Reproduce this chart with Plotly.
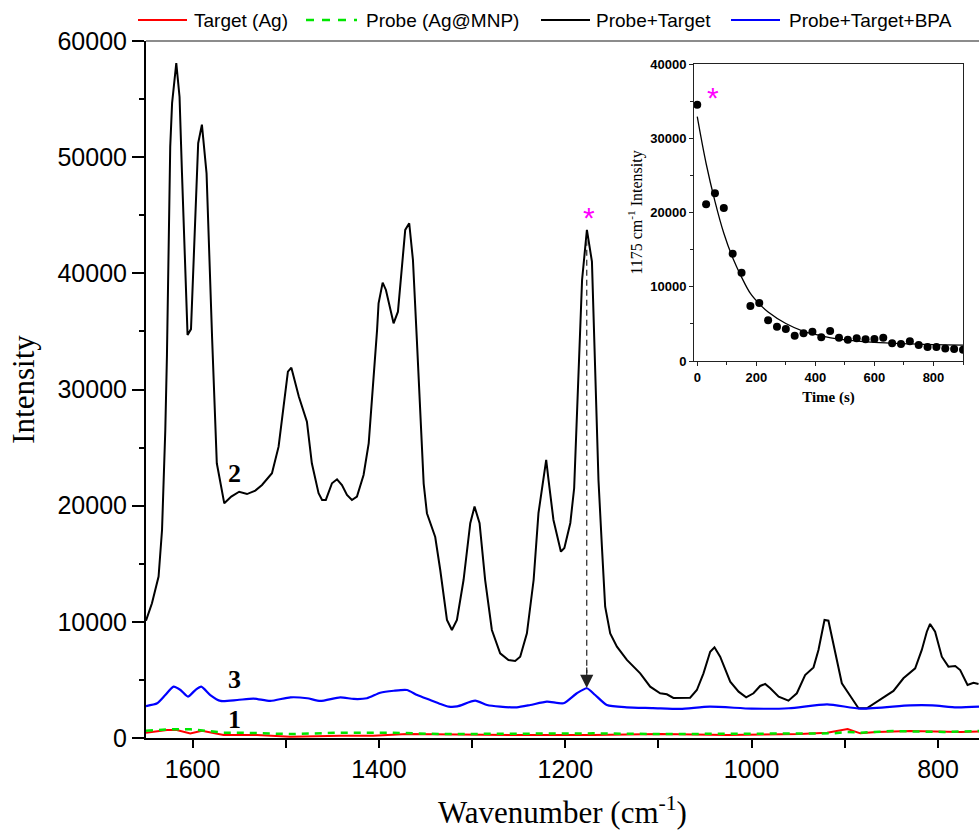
import plotly.graph_objects as go

# ---------------- data ----------------
black_wn = [1650, 1643.6, 1636.5, 1632.8, 1629.3, 1627.5, 1624, 1622, 1617.5, 1614, 1611.4,
            1605.4, 1601.7, 1594, 1590, 1585, 1579, 1574, 1566, 1558.5, 1550, 1541.6, 1532.7,
            1525.5, 1514.8, 1507.7, 1502.4, 1497.7, 1494, 1486, 1477.3, 1472, 1464.8, 1461,
            1457, 1450.4, 1445, 1439.7, 1434.3, 1429, 1423.6, 1416.5, 1411, 1405.8, 1402,
            1400.4, 1396, 1392.5, 1384.3, 1379.6, 1371.8, 1367.5, 1363.5, 1359.3, 1355.7,
            1352, 1348.5, 1339.6, 1334.2, 1327, 1321.7, 1316.3, 1309.2, 1302, 1297.4, 1292,
            1286, 1278.8, 1269.9, 1261, 1253.8, 1248.4, 1241.2, 1234, 1228.8, 1224, 1220.5,
            1218, 1212.7, 1204.7, 1201, 1194.6, 1190.5, 1182, 1176.8, 1171.4, 1164.4, 1160.7,
            1157.2, 1151.8, 1144.6, 1133.9, 1119.6, 1108.9, 1098.2, 1091, 1084, 1066, 1058.8,
            1051.7, 1044.5, 1039.9, 1033.8, 1023, 1014, 1005.9, 998, 990.9, 985.5, 980, 971,
            960.5, 951.5, 942.6, 933.6, 928.3, 921.8, 917.6, 912.2, 903.2, 892.5, 885.3,
            876.4, 865.6, 847.8, 837.1, 824.5, 817.4, 812, 808.5, 803.1, 795.9, 788.8, 781.5,
            776.2, 768.3, 761.9, 756.5]
black_int = [10100, 11600, 13900, 17900, 26500, 33000, 50900, 54650, 58100, 55200, 48650,
             34700, 35200, 51200, 52800, 48600, 34300, 23650, 20200, 20780, 21200, 21000, 21300,
             21780, 22790, 25080, 28500, 31540, 31880, 29390, 27230, 23650, 21070, 20490,
             20490, 21930, 22270, 21780, 20920, 20490, 20780, 22640, 25370, 30820, 35130,
             37420, 39200, 38570, 35700, 36700, 43740, 44310, 41150, 34270, 27960,
             21900, 19350, 17300, 14460, 10160, 9300, 10160, 13600, 18490, 19920, 18490,
             13600, 9300, 7290, 6720, 6630, 7000, 9010, 13600, 19350, 22210, 23940,
             22210, 18770, 16040, 16360, 18510, 21500, 39430, 43740, 41010, 22210, 16470,
             11300, 9010, 7860, 6720, 5570, 4420, 3850, 3760, 3450, 3470, 4130,
             5570, 7430, 7810, 7000, 4850, 3990, 3500, 3850, 4480, 4650, 4280, 3560,
             3210, 3850, 5420, 6080, 7580, 10160, 10100, 8150, 4710, 3420, 2560,
             2560, 3130, 4050, 5140, 6000, 7580, 9150, 9820, 9150, 7000, 6140, 6200,
             5850, 4560, 4760, 4650]

blue_wn = [1650, 1638, 1629.3, 1620.4, 1613, 1605, 1597, 1590.7, 1581, 1570, 1552, 1534.5,
           1516.6, 1495, 1477, 1463, 1441.5, 1427, 1412.9, 1398.6, 1384, 1370, 1359, 1345,
           1334, 1325, 1316, 1296.7, 1284, 1270, 1252, 1237.6, 1219.7, 1201.9, 1187.6,
           1176.8, 1167.9, 1155.4, 1134, 1106, 1076.7, 1045, 1000, 960, 919, 883, 830, 806,
           780, 756]
blue_int = [2750, 2990, 3700, 4420, 4130, 3560, 4130, 4420, 3700, 3190, 3270, 3390,
            3190, 3500, 3420, 3190, 3500, 3360, 3420, 3900, 4070, 4130, 3700, 3270,
            2930, 2700, 2720, 3210, 2840, 2700, 2640, 2840, 3130, 2990, 3850,
            4280, 3700, 2840, 2640, 2580, 2500, 2700, 2530, 2560, 2900, 2530, 2810, 2810,
            2640, 2700]

red_wn = [1650, 1627.5, 1617, 1602.5, 1590, 1577.5, 1566.7, 1531, 1495, 1441, 1406, 1370,
          1334, 1250, 1170, 1098, 1026, 948, 919, 905, 897, 883.4, 866, 830, 776, 756]
red_int = [460, 690, 690, 400, 630, 400, 260, 260, 110, 200, 200, 340,
           300, 260, 260, 340, 260, 340, 460, 690, 775, 400, 520, 600, 520, 560]

green_wn = [1650, 1624, 1602, 1577, 1566, 1549, 1495, 1441, 1388, 1334, 1250, 1170, 1098,
            937, 912, 897, 883, 848, 794, 756]
green_int = [630, 750, 750, 580, 460, 460, 340, 460, 460, 340, 400, 400, 340,
             340, 400, 520, 460, 600, 520, 600]

# inset: 1175 cm-1 intensity vs time
time_s = [0, 30, 60, 90, 120, 150, 180, 210, 240, 270, 300, 330, 360, 390, 420, 450, 480,
          510, 540, 570, 600, 630, 660, 690, 720, 750, 780, 810, 840, 870, 900]
time_int = [34500, 21100, 22580, 20600, 14450, 11900, 7400, 7800, 5480, 4620, 4310, 3410,
            3730, 3950, 3190, 4040, 3140, 2870, 3050, 2920, 2960, 3140, 2380, 2290, 2650,
            2150, 1890, 1890, 1700, 1620, 1530]
fit_t = [0, 30, 60, 90, 120, 150, 180, 210, 240, 300, 360, 420, 480, 540, 600, 720, 800, 900]
fit_int = [32900, 26600, 21500, 17200, 13900, 11300, 9100, 7700, 6600, 5050, 4000, 3400,
           2950, 2700, 2500, 2300, 2200, 2150]

series_names = ["Target (Ag)", "Probe (Ag@MNP)", "Probe+Target", "Probe+Target+BPA"]
series_colors = ["#FF0000", "#00E600", "#000000", "#0000FF"]

# ---------------- geometry helpers (pixels -> paper) ----------------
W, H = 979, 830
ML, MR, MT, MB = 146, 0, 41, 92
PW, PH = W - ML - MR, H - MT - MB


def pxx(px):
    return (px - ML) / PW


def pxy(py):
    return (H - MB - py) / PH


SANS = "Liberation Sans, Arial, Helvetica, sans-serif"
SERIF = "Liberation Serif, Times New Roman, serif"

fig = go.Figure()

fig.add_trace(go.Scatter(x=red_wn, y=red_int, mode="lines", name=series_names[0],
                         line=dict(color=series_colors[0], width=2), showlegend=False))
fig.add_trace(go.Scatter(x=green_wn, y=green_int, mode="lines", name=series_names[1],
                         line=dict(color=series_colors[1], width=2.5, dash="7px,6px"),
                         showlegend=False))
fig.add_trace(go.Scatter(x=black_wn, y=black_int, mode="lines", name=series_names[2],
                         line=dict(color=series_colors[2], width=2), showlegend=False))
fig.add_trace(go.Scatter(x=blue_wn, y=blue_int, mode="lines", name=series_names[3],
                         line=dict(color=series_colors[3], width=2.2, shape="spline",
                                   smoothing=0.6), showlegend=False))

# inset
fig.add_trace(go.Scatter(x=fit_t, y=fit_int, mode="lines", xaxis="x2", yaxis="y2",
                         line=dict(color="black", width=1.3, shape="spline"),
                         showlegend=False, name="fit"))
fig.add_trace(go.Scatter(x=time_s, y=time_int, mode="markers", xaxis="x2", yaxis="y2",
                         marker=dict(color="black", size=8), showlegend=False,
                         name="1175 cm-1"))

fig.update_layout(
    width=W, height=H,
    margin=dict(l=ML, r=MR, t=MT, b=MB),
    paper_bgcolor="white", plot_bgcolor="white",
    showlegend=False,
    xaxis=dict(
        range=[1650, 756], showline=True, linecolor="black", linewidth=2,
        ticks="outside", ticklen=8, tickwidth=2, tickcolor="black",
        tick0=0, dtick=200, showgrid=False, zeroline=False,
        minor=dict(dtick=100, ticks="outside", ticklen=8, tickwidth=2, tickcolor="black"),
        tickfont=dict(family=SANS, size=25, color="black"),
        title=dict(text="Wavenumber (cm<sup>-1</sup>)", standoff=21,
                   font=dict(family=SERIF, size=31, color="black")),
    ),
    yaxis=dict(
        range=[0, 60000], showline=True, linecolor="black", linewidth=2,
        ticks="outside", ticklen=12, tickwidth=2, tickcolor="black",
        dtick=10000, tickformat="d", showgrid=False, zeroline=False,
        minor=dict(dtick=5000, ticks="outside", ticklen=5, tickwidth=2, tickcolor="black"),
        tickfont=dict(family=SANS, size=25, color="black"),
        title=dict(text="Intensity", standoff=14,
                   font=dict(family=SERIF, size=31, color="black")),
    ),
    xaxis2=dict(
        domain=[pxx(694), pxx(963)], anchor="y2", range=[-11, 900],
        showline=True, mirror=True, linecolor="#222", linewidth=1,
        ticks="outside", ticklen=4, tickwidth=1, tickcolor="#222",
        dtick=200, tick0=0, showgrid=False, zeroline=False,
        minor=dict(dtick=100, ticks="outside", ticklen=3, tickwidth=1, tickcolor="#222"),
        tickfont=dict(family=SANS, size=13, color="black", weight="bold"),
        title=dict(text="<b>Time (s)</b>", standoff=7,
                   font=dict(family=SERIF, size=15, color="black")),
    ),
    yaxis2=dict(
        domain=[pxy(361), pxy(64)], anchor="x2", range=[0, 40000],
        showline=True, mirror=True, linecolor="#222", linewidth=1,
        ticks="outside", ticklen=4, tickwidth=1, tickcolor="#222",
        dtick=10000, tickformat="d", showgrid=False, zeroline=False,
        minor=dict(dtick=5000, ticks="outside", ticklen=3, tickwidth=1, tickcolor="#222"),
        tickfont=dict(family=SANS, size=13, color="black", weight="bold"),
        title=dict(text="1175 cm<sup>-1</sup> Intensity", standoff=3,
                   font=dict(family=SERIF, size=16, color="black")),
    ),
)

shapes = []
# top frame line (under legend)
shapes.append(dict(type="line", xref="paper", yref="paper", x0=0, x1=1, y0=1, y1=1,
                   line=dict(color="#666", width=1.5)))
# dashed arrow shaft from the 1175 peak to the blue curve
shapes.append(dict(type="line", xref="x", yref="y", x0=1177, x1=1177, y0=42900, y1=5600,
                   line=dict(color="#333", width=1.3, dash="6px,4px")))

# manual legend along the top
leg_y = pxy(20)
leg_lines = [(138, 187), (306, 357), (541, 590), (731, 780)]
leg_text_x = [192, 364, 594, 787]
annotations = []
for i in range(4):
    x0, x1 = leg_lines[i]
    shapes.append(dict(type="line", xref="paper", yref="paper", x0=pxx(x0), x1=pxx(x1),
                       y0=leg_y, y1=leg_y,
                       line=dict(color=series_colors[i], width=2.5 if i == 1 else 2,
                                 dash="8px,8px" if i == 1 else "solid")))
    annotations.append(dict(xref="paper", yref="paper", x=pxx(leg_text_x[i]), y=leg_y,
                            xanchor="left", yanchor="middle", showarrow=False,
                            text=series_names[i],
                            font=dict(family=SANS, size=19, color="black")))

# arrow head
annotations.append(dict(xref="x", yref="y", axref="x", ayref="y", x=1177, y=4300,
                        ax=1177, ay=6200, text="", showarrow=True, arrowhead=2,
                        arrowsize=2.2, arrowwidth=1.2, arrowcolor="#222"))

# curve labels
for lab, yv in [("2", 22730), ("3", 5050), ("1", 1550)]:
    annotations.append(dict(xref="x", yref="y", x=1555, y=yv, text="<b>" + lab + "</b>",
                            showarrow=False, xanchor="center", yanchor="middle",
                            font=dict(family=SERIF, size=26, color="black")))

# magenta asterisks
annotations.append(dict(xref="x", yref="y", x=1175, y=45030, text="*", showarrow=False,
                        yshift=-3, font=dict(family=SANS, size=30, color="#FF00FF")))
annotations.append(dict(xref="x2", yref="y2", x=52, y=35900, text="*", showarrow=False,
                        yshift=-3, font=dict(family=SANS, size=30, color="#FF00FF")))

fig.update_layout(shapes=shapes, annotations=annotations)

fig.write_html("out.html", config={"displayModeBar": False},
               post_script="document.body.style.margin='0px';document.body.style.padding='0px';")
